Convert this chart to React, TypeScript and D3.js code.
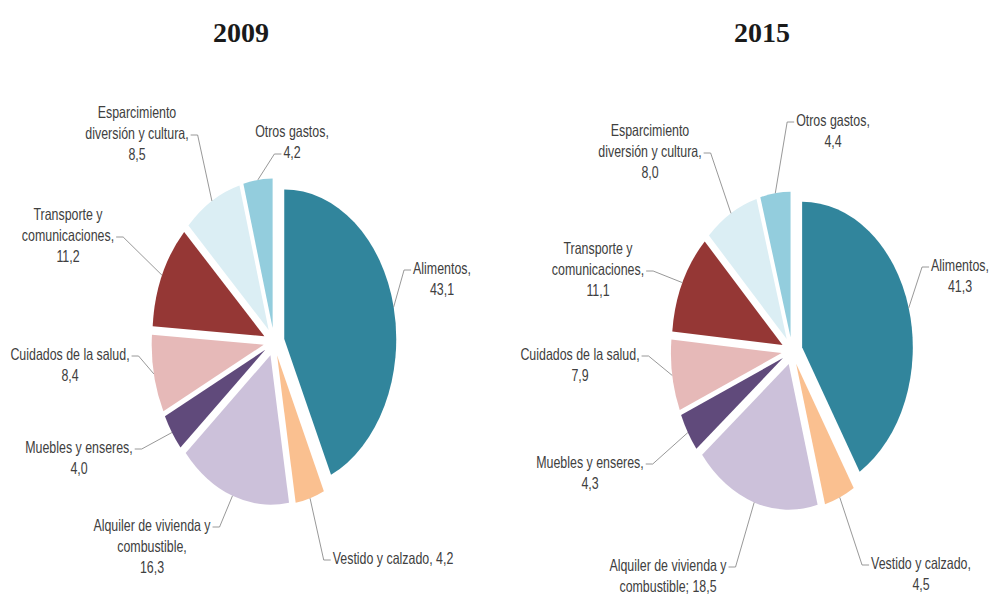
import React from 'react';
import * as d3 from 'd3';

// categorías y valores (% del gasto)
const categories = [
  'Alimentos',
  'Vestido y calzado',
  'Alquiler de vivienda y combustible',
  'Muebles y enseres',
  'Cuidados de la salud',
  'Transporte y comunicaciones',
  'Esparcimiento diversión y cultura',
  'Otros gastos',
];
const years = ['2009', '2015'];
const values2009 = [43.1, 4.2, 16.3, 4.0, 8.4, 11.2, 8.5, 4.2];
const values2015 = [41.3, 4.5, 18.5, 4.3, 7.9, 11.1, 8.0, 4.4];
const colors = ['#31859C', '#FAC090', '#CCC1DA', '#604A7B', '#E6B9B8', '#953735', '#DBEEF4', '#93CDDD'];

// how each label is broken into lines ({v} = value)
const lines2009 = [
  ['Alimentos,', '{v}'],
  ['Vestido y calzado, {v}'],
  ['Alquiler de vivienda y', 'combustible,', '{v}'],
  ['Muebles y enseres,', '{v}'],
  ['Cuidados de la salud,', '{v}'],
  ['Transporte y', 'comunicaciones,', '{v}'],
  ['Esparcimiento', 'diversión y cultura,', '{v}'],
  ['Otros gastos,', '{v}'],
];
const lines2015 = [
  ['Alimentos,', '{v}'],
  ['Vestido y calzado,', '{v}'],
  ['Alquiler de vivienda y', 'combustible; {v}'],
  ['Muebles y enseres,', '{v}'],
  ['Cuidados de la salud,', '{v}'],
  ['Transporte y', 'comunicaciones,', '{v}'],
  ['Esparcimiento', 'diversión y cultura,', '{v}'],
  ['Otros gastos,', '{v}'],
];

// label placement: center x, first line y, line the leader hooks to, side
const layout2009 = [
  { x: 442, y: 268, hook: 0, side: 'left' },
  { x: 393, y: 558, hook: 0, side: 'left' },
  { x: 152, y: 525, hook: 0, side: 'right' },
  { x: 79, y: 447, hook: 0, side: 'right' },
  { x: 70, y: 354, hook: 0, side: 'right' },
  { x: 68, y: 214, hook: 1, side: 'right' },
  { x: 137, y: 112, hook: 1, side: 'right' },
  { x: 292, y: 131, hook: 1, side: 'left' },
];
const layout2015 = [
  { x: 960, y: 265, hook: 0, side: 'left' },
  { x: 921, y: 563, hook: 0, side: 'left' },
  { x: 668, y: 565, hook: 0, side: 'right' },
  { x: 590, y: 462, hook: 0, side: 'right' },
  { x: 580, y: 354, hook: 0, side: 'right' },
  { x: 598, y: 248, hook: 1, side: 'right' },
  { x: 650, y: 130, hook: 1, side: 'right' },
  { x: 833, y: 120, hook: 0, side: 'left' },
];

const W = 995;
const H = 597;
const FS = 12.4;
const TK = 1.28;
const LINE = 21;
const EXPLODE = 10.5;

const fmt = d3.formatLocale({ decimal: ',', thousands: '.', grouping: [3], currency: ['', ''] }).format('.1f');

let measureCtx: CanvasRenderingContext2D | null = null;
function textWidth(s: string) {
  if (!measureCtx) {
    measureCtx = document.createElement('canvas').getContext('2d');
  }
  if (!measureCtx) return s.length * FS * 0.5;
  measureCtx.font = `${FS}px "Liberation Sans", Arial, sans-serif`;
  return measureCtx.measureText(s).width;
}

function Pie({ values, lines, layout, cx, cy, R, k, title, titleX }) {
  const pie = d3.pie<number>().value(d => d).sort(null);
  const arcs = pie(values);
  const arc = d3.arc<d3.PieArcDatum<number>>().innerRadius(0).outerRadius(R);
  const edge = d3.arc<d3.PieArcDatum<number>>().innerRadius(R + EXPLODE).outerRadius(R + EXPLODE);

  return (
    <g>
      <text x={titleX} y={42} textAnchor="middle" fontFamily='"Liberation Serif", serif'
        fontWeight="bold" fontSize={28} fill="#1a1a1a">{title}</text>
      <g transform={`translate(${cx},${cy}) scale(1,${k})`}>
        {arcs.map((a, i) => {
          const mid = (a.startAngle + a.endAngle) / 2;
          const dx = EXPLODE * Math.sin(mid);
          const dy = -EXPLODE * Math.cos(mid);
          return <path key={i} d={arc(a) || ''} fill={colors[i]} transform={`translate(${dx},${dy})`} />;
        })}
      </g>
      {arcs.map((a, i) => {
        const L = layout[i];
        const txt = lines[i].map(s => s.replace('{v}', fmt(values[i])));
        const [ex, ey] = edge.centroid(a);
        const px = cx + ex;
        const py = cy + ey * k;
        const hw = textWidth(txt[L.hook]) / 2;
        const hy = L.y + L.hook * LINE + 2;
        const hx = L.side === 'left' ? L.x - hw - 2 : L.x + hw + 2;
        const elx = L.side === 'left' ? hx - 7 : hx + 7;
        return (
          <g key={'l' + i}>
            <path d={`M${px},${py}L${elx},${hy}L${hx},${hy}`} fill="none" stroke="#8c8c8c" strokeWidth={0.9} />
            {txt.map((t, j) => (
              <text key={j} transform={`translate(${L.x},${L.y + j * LINE + 5.5}) scale(1,${TK})`}
                textAnchor="middle" fontFamily='"Liberation Sans", Arial, sans-serif' fontSize={FS} fill="#404040">
                {t}
              </text>
            ))}
          </g>
        );
      })}
    </g>
  );
}

export default function App() {
  return (
    <svg width={W} height={H} style={{ position: 'absolute', left: 0, top: 0, display: 'block' }}>
      <rect width={W} height={H} fill="#fff" />
      <Pie values={values2009} lines={lines2009} layout={layout2009} cx={274} cy={342} R={112} k={1.335}
        title={years[0]} titleX={241} />
      <Pie values={values2015} lines={lines2015} layout={layout2015} cx={792} cy={351} R={110.7} k={1.315}
        title={years[1]} titleX={762} />
    </svg>
  );
}
